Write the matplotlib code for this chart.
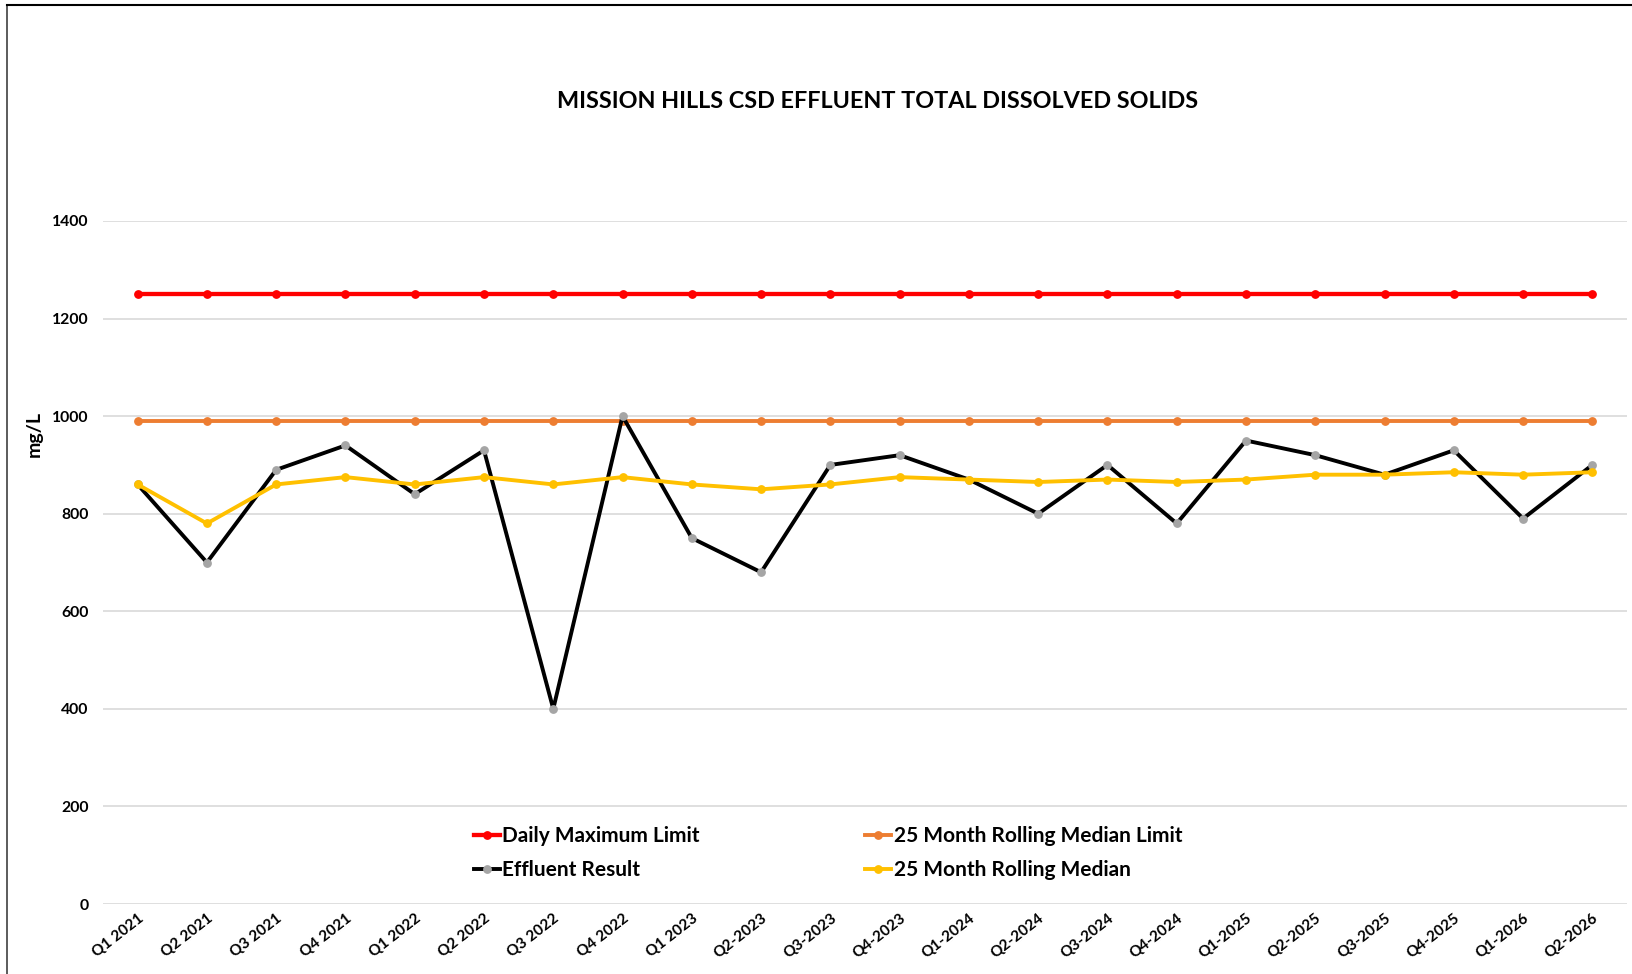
import matplotlib
matplotlib.use("Agg")
import matplotlib.pyplot as plt
import numpy as np
from matplotlib.lines import Line2D

# ---- data ----
quarters = ["Q1 2021", "Q2 2021", "Q3 2021", "Q4 2021", "Q1 2022", "Q2 2022",
            "Q3 2022", "Q4 2022", "Q1 2023", "Q2-2023", "Q3-2023", "Q4-2023",
            "Q1-2024", "Q2-2024", "Q3-2024", "Q4-2024", "Q1-2025", "Q2-2025",
            "Q3-2025", "Q4-2025", "Q1-2026", "Q2-2026"]
daily_max_limit = [1250] * 22
median_limit = [990] * 22
effluent_result = [860, 700, 890, 940, 840, 930, 400, 1000, 750, 680, 900, 920,
                   870, 800, 900, 780, 950, 920, 880, 930, 790, 900]
rolling_median = [860, 780, 860, 875, 860, 875, 860, 875, 860, 850, 860, 875,
                  870, 865, 870, 865, 870, 880, 880, 885, 880, 885]
y_ticks = [0, 200, 400, 600, 800, 1000, 1200, 1400]

title = "MISSION HILLS CSD EFFLUENT TOTAL DISSOLVED SOLIDS"
FONT = "Lato"
plt.rcParams["font.family"] = [FONT, "DejaVu Sans"]

W, H = 1633, 974
fig = plt.figure(figsize=(W / 100, H / 100), dpi=100)
fig.patch.set_facecolor("white")

# plot area in pixels
x0, x1 = 103, 1627
y_top, y_bot = 221, 904
ax = fig.add_axes([x0 / W, 1 - y_bot / H, (x1 - x0) / W, (y_bot - y_top) / H])

x = np.arange(len(quarters))
lw = 2.8
ms = 5.3
ax.plot(x, daily_max_limit, color="#FF0000", lw=lw + 0.3, marker="o", ms=ms,
        mfc="#FF0000", mec="#FF0000", label="Daily Maximum Limit", zorder=3)
ax.plot(x, effluent_result, color="#000000", lw=lw, marker="o", ms=ms,
        mfc="#A5A5A5", mec="#A5A5A5", label="Effluent Result", zorder=4)
ax.plot(x, median_limit, color="#ED7D31", lw=lw, marker="o", ms=ms,
        mfc="#ED7D31", mec="#ED7D31", label="25 Month Rolling Median Limit", zorder=3)
ax.plot(x, rolling_median, color="#FFC000", lw=lw, marker="o", ms=ms,
        mfc="#FFC000", mec="#FFC000", label="25 Month Rolling Median", zorder=5)

ax.set_xlim(-0.5, len(quarters) - 0.5)
ax.set_ylim(0, 1400)
ax.set_yticks(y_ticks)
ax.set_yticklabels([str(v) for v in y_ticks], fontsize=11.3, fontweight="bold")
ax.set_xticks(x)
ax.set_xticklabels(quarters, rotation=38, ha="right", va="top",
                   rotation_mode="anchor", fontsize=11, fontweight="bold")
ax.tick_params(axis="both", length=0)
ax.tick_params(axis="y", pad=10.5)
ax.tick_params(axis="x", pad=5)
ax.grid(axis="y", color="#D9D9D9", lw=1.2)
ax.set_axisbelow(True)
for s in ax.spines.values():
    s.set_visible(False)

# title and y label
fig.text(878 / W, 1 - 101 / H, title, ha="center", va="center",
         fontsize=16.8, fontweight="bold")
fig.text(34 / W, 1 - 434 / H, "mg/L", ha="center", va="center", rotation=90,
         fontsize=14, fontweight="bold")

# legend
leg = ax.legend(loc="center", bbox_to_anchor=(828 / W, 1 - 853 / H),
                bbox_transform=fig.transFigure, ncol=2, frameon=False,
                prop={"family": FONT, "weight": "bold", "size": 15},
                handlelength=1.25, handletextpad=0.12, columnspacing=7.95,
                labelspacing=0.66, borderpad=0)

# chart border (left and top)
fig.add_artist(Line2D([7 / W, 7 / W], [0, 1 - 4.5 / H], transform=fig.transFigure,
                      color="#404040", lw=1.2))
fig.add_artist(Line2D([7 / W, 1], [1 - 4.5 / H, 1 - 4.5 / H], transform=fig.transFigure,
                      color="#000000", lw=1.5))

fig.savefig("out.png", dpi=100)
